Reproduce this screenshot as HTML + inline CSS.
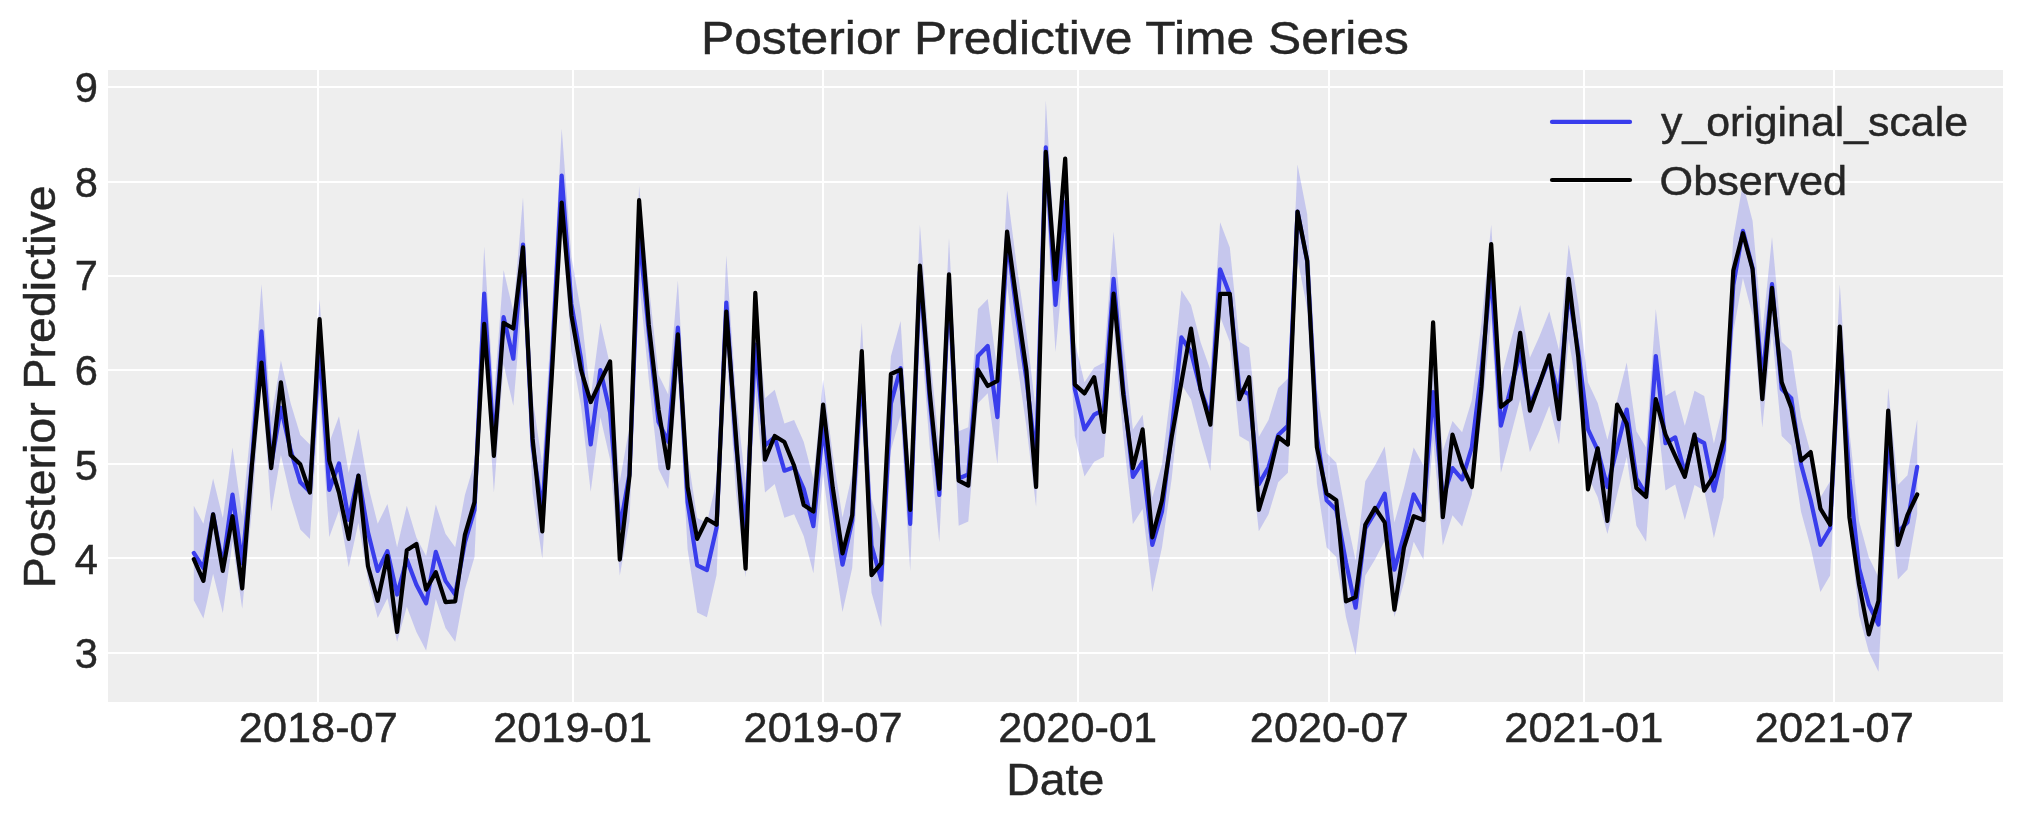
<!DOCTYPE html>
<html><head><meta charset="utf-8"><title>Posterior Predictive Time Series</title>
<style>
html,body{margin:0;padding:0;background:#fff;}
body{width:2023px;height:823px;overflow:hidden;}
svg{display:block;will-change:transform;}
text{font-family:"Liberation Sans",sans-serif;fill:#262626;stroke:#262626;stroke-width:0.45px;}
</style></head><body>
<svg width="2023" height="823" viewBox="0 0 2023 823">
<rect x="0" y="0" width="2023" height="823" fill="#ffffff"/>
<rect x="108" y="70" width="1895" height="632" fill="#eeeeee"/>
<g fill="#ffffff" stroke="none">
<rect x="317" y="70" width="2" height="632"/>
<rect x="572" y="70" width="2" height="632"/>
<rect x="822" y="70" width="2" height="632"/>
<rect x="1077" y="70" width="2" height="632"/>
<rect x="1328" y="70" width="2" height="632"/>
<rect x="1583" y="70" width="2" height="632"/>
<rect x="1833" y="70" width="2" height="632"/>
<rect x="108" y="652" width="1895" height="2"/>
<rect x="108" y="557" width="1895" height="2"/>
<rect x="108" y="463" width="1895" height="2"/>
<rect x="108" y="369" width="1895" height="2"/>
<rect x="108" y="275" width="1895" height="2"/>
<rect x="108" y="181" width="1895" height="2"/>
<rect x="108" y="86" width="1895" height="2"/>
</g>
<polygon points="193.8,505.8 203.4,523.8 213.1,478.5 222.8,518.1 232.5,447.4 242.2,516.2 251.8,417.2 261.5,284.2 271.2,417.2 280.9,360.6 290.6,403.0 300.3,435.1 309.9,444.5 319.6,299.2 329.3,442.6 339.0,416.2 348.7,472.8 358.4,428.5 368.0,485.1 377.7,523.8 387.4,504.0 397.1,547.3 406.8,505.8 416.4,537.5 426.1,556.1 435.8,504.6 445.5,533.8 455.2,547.3 464.9,495.1 474.5,462.7 484.2,246.4 493.9,398.3 503.6,270.0 513.3,311.5 523.0,197.4 532.6,398.3 542.3,464.3 552.0,313.4 561.7,128.5 571.4,256.8 581.0,311.5 590.7,397.4 600.4,322.8 610.1,365.3 619.8,481.3 629.5,426.6 639.1,186.1 648.8,285.1 658.5,374.7 668.2,394.5 677.9,280.4 687.6,454.9 697.2,518.1 706.9,522.8 716.6,480.4 726.3,255.3 736.0,398.3 745.6,483.2 755.3,297.4 765.0,398.3 774.7,389.8 784.4,423.5 794.1,420.0 803.7,441.7 813.4,479.0 823.1,379.4 832.8,454.9 842.5,517.5 852.2,473.8 861.8,322.8 871.5,498.3 881.2,532.5 890.9,356.2 900.6,320.9 910.2,476.6 919.9,224.7 929.6,351.1 939.3,447.8 949.0,237.9 958.7,431.3 968.3,427.2 978.0,308.9 987.7,298.9 997.4,370.0 1007.1,190.8 1016.8,266.2 1026.4,332.3 1036.1,412.5 1045.8,100.2 1055.5,257.7 1065.2,154.9 1074.8,341.7 1084.5,382.3 1094.2,367.5 1103.9,362.5 1113.6,231.7 1123.3,341.7 1132.9,429.6 1142.6,414.7 1152.3,497.6 1162.0,464.3 1171.7,384.2 1181.4,290.2 1191.0,304.9 1200.7,342.6 1210.4,370.0 1220.1,222.2 1229.8,247.4 1239.4,341.7 1249.1,347.4 1258.8,437.0 1268.5,420.0 1278.2,387.9 1287.9,378.5 1297.5,164.4 1307.2,214.3 1316.9,388.9 1326.6,453.0 1336.3,462.7 1346.0,515.3 1355.6,560.6 1365.3,481.3 1375.0,465.3 1384.7,446.4 1394.4,522.5 1404.0,487.9 1413.7,447.4 1423.4,465.3 1433.1,344.9 1442.8,451.1 1452.5,420.9 1462.1,432.3 1471.8,400.2 1481.5,322.8 1491.2,224.7 1500.9,378.5 1510.6,341.7 1520.2,304.9 1529.9,357.7 1539.6,336.0 1549.3,311.5 1559.0,350.2 1568.7,244.5 1578.3,304.0 1588.0,382.3 1597.7,403.0 1607.4,439.8 1617.1,400.2 1626.7,362.5 1636.4,431.3 1646.1,447.4 1655.8,308.9 1665.5,396.0 1675.2,390.3 1684.8,425.7 1694.5,390.8 1704.2,396.0 1713.9,443.6 1723.6,403.0 1733.3,237.9 1742.9,183.6 1752.6,221.0 1762.3,333.2 1772.0,237.0 1781.7,341.7 1791.3,351.1 1801.0,417.2 1810.7,453.0 1820.4,497.6 1830.1,481.3 1839.8,284.2 1849.4,431.3 1859.1,521.2 1868.8,557.3 1878.5,577.3 1888.2,387.9 1897.9,485.1 1907.5,475.2 1917.2,419.7 1917.2,514.0 1907.5,569.5 1897.9,579.4 1888.2,482.3 1878.5,671.7 1868.8,651.7 1859.1,615.5 1849.4,525.7 1839.8,383.2 1830.1,575.6 1820.4,592.0 1810.7,547.3 1801.0,511.5 1791.3,445.5 1781.7,436.0 1772.0,331.3 1762.3,427.5 1752.6,315.3 1742.9,277.9 1733.3,332.3 1723.6,497.3 1713.9,537.9 1704.2,490.4 1694.5,485.1 1684.8,520.0 1675.2,484.6 1665.5,490.4 1655.8,403.2 1646.1,541.7 1636.4,525.7 1626.7,456.8 1617.1,494.5 1607.4,534.1 1597.7,497.3 1588.0,476.6 1578.3,398.3 1568.7,338.9 1559.0,444.5 1549.3,405.8 1539.6,430.4 1529.9,452.1 1520.2,399.2 1510.6,436.0 1500.9,472.8 1491.2,319.1 1481.5,417.2 1471.8,494.5 1462.1,526.6 1452.5,515.3 1442.8,545.5 1433.1,439.2 1423.4,559.6 1413.7,541.7 1404.0,582.2 1394.4,616.9 1384.7,540.7 1375.0,559.6 1365.3,575.6 1355.6,654.9 1346.0,617.2 1336.3,557.1 1326.6,547.3 1316.9,483.2 1307.2,308.7 1297.5,258.7 1287.9,472.8 1278.2,482.3 1268.5,514.3 1258.8,531.3 1249.1,441.7 1239.4,436.0 1229.8,341.7 1220.1,316.5 1210.4,470.9 1200.7,437.0 1191.0,399.2 1181.4,384.5 1171.7,478.5 1162.0,547.3 1152.3,592.0 1142.6,509.0 1132.9,524.0 1123.3,436.0 1113.6,326.0 1103.9,456.8 1094.2,461.8 1084.5,476.6 1074.8,436.0 1065.2,249.3 1055.5,352.1 1045.8,194.5 1036.1,506.8 1026.4,426.6 1016.8,360.6 1007.1,285.1 997.4,464.3 987.7,393.2 978.0,403.2 968.3,521.5 958.7,525.7 949.0,332.3 939.3,542.2 929.6,445.5 919.9,319.1 910.2,570.9 900.6,415.3 890.9,450.6 881.2,626.9 871.5,592.6 861.8,417.2 852.2,568.1 842.5,611.9 832.8,549.2 823.1,473.8 813.4,573.3 803.7,536.0 794.1,514.3 784.4,517.8 774.7,484.1 765.0,492.6 755.3,391.7 745.6,577.5 736.0,492.6 726.3,349.6 716.6,574.7 706.9,617.2 697.2,612.4 687.6,549.2 677.9,374.7 668.2,488.9 658.5,469.0 648.8,379.4 639.1,280.4 629.5,520.9 619.8,575.6 610.1,459.6 600.4,417.2 590.7,491.7 581.0,405.8 571.4,351.1 561.7,222.8 552.0,407.7 542.3,558.7 532.6,492.6 523.0,291.7 513.3,405.8 503.6,364.3 493.9,492.6 484.2,340.8 474.5,557.1 464.9,589.4 455.2,641.7 445.5,628.1 435.8,598.9 426.1,650.5 416.4,631.9 406.8,606.8 397.1,641.7 387.4,598.3 377.7,618.1 368.0,579.4 358.4,522.8 348.7,567.2 339.0,510.6 329.3,537.0 319.6,393.6 309.9,538.9 300.3,529.4 290.6,497.3 280.9,454.9 271.2,511.5 261.5,378.5 251.8,511.5 242.2,608.7 232.5,541.7 222.8,612.9 213.1,573.8 203.4,618.4 193.8,600.2" fill="#2a2eec" fill-opacity="0.2" stroke="none"/>
<polyline points="193.8,553.0 203.4,568.1 213.1,514.3 222.8,565.3 232.5,494.5 242.2,563.4 251.8,464.3 261.5,331.3 271.2,464.3 280.9,407.7 290.6,450.2 300.3,482.3 309.9,491.7 319.6,346.4 329.3,489.8 339.0,463.4 348.7,520.0 358.4,475.7 368.0,532.3 377.7,570.9 387.4,551.1 397.1,594.5 406.8,559.6 416.4,584.7 426.1,603.3 435.8,551.8 445.5,580.9 455.2,594.5 464.9,542.3 474.5,509.9 484.2,293.6 493.9,445.5 503.6,317.2 513.3,358.7 523.0,244.5 532.6,445.5 542.3,511.5 552.0,360.6 561.7,175.7 571.4,304.0 581.0,358.7 590.7,444.5 600.4,370.0 610.1,412.5 619.8,528.5 629.5,473.8 639.1,233.2 648.8,332.3 658.5,421.9 668.2,441.7 677.9,327.6 687.6,502.1 697.2,565.3 706.9,570.0 716.6,527.5 726.3,302.5 736.0,445.5 745.6,530.4 755.3,344.5 765.0,445.5 774.7,437.0 784.4,470.7 794.1,467.2 803.7,488.9 813.4,526.1 823.1,426.6 832.8,502.1 842.5,564.7 852.2,520.9 861.8,370.0 871.5,545.5 881.2,579.7 890.9,403.4 900.6,368.1 910.2,523.8 919.9,271.9 929.6,398.3 939.3,495.0 949.0,285.1 958.7,478.5 968.3,474.3 978.0,356.0 987.7,346.0 997.4,417.2 1007.1,237.9 1016.8,313.4 1026.4,379.4 1036.1,459.6 1045.8,147.4 1055.5,304.9 1065.2,202.1 1074.8,388.9 1084.5,429.4 1094.2,414.6 1103.9,409.6 1113.6,278.9 1123.3,388.9 1132.9,476.8 1142.6,461.9 1152.3,544.8 1162.0,511.5 1171.7,431.3 1181.4,337.4 1191.0,352.1 1200.7,389.8 1210.4,417.2 1220.1,269.3 1229.8,294.5 1239.4,388.9 1249.1,394.5 1258.8,484.1 1268.5,467.2 1278.2,435.1 1287.9,425.7 1297.5,211.5 1307.2,261.5 1316.9,436.0 1326.6,500.2 1336.3,509.9 1346.0,562.4 1355.6,607.7 1365.3,528.5 1375.0,512.4 1384.7,493.6 1394.4,569.7 1404.0,535.1 1413.7,494.5 1423.4,512.4 1433.1,392.1 1442.8,498.3 1452.5,468.1 1462.1,479.4 1471.8,447.4 1481.5,370.0 1491.2,271.9 1500.9,425.7 1510.6,388.9 1520.2,352.1 1529.9,404.9 1539.6,383.2 1549.3,358.7 1559.0,397.4 1568.7,291.7 1578.3,351.1 1588.0,429.4 1597.7,450.2 1607.4,487.0 1617.1,447.4 1626.7,409.6 1636.4,478.5 1646.1,494.5 1655.8,356.0 1665.5,443.2 1675.2,437.4 1684.8,472.8 1694.5,437.9 1704.2,443.2 1713.9,490.7 1723.6,450.2 1733.3,285.1 1742.9,230.8 1752.6,268.1 1762.3,380.4 1772.0,284.2 1781.7,388.9 1791.3,398.3 1801.0,464.3 1810.7,500.2 1820.4,544.8 1830.1,528.5 1839.8,336.0 1849.4,478.5 1859.1,568.4 1868.8,604.5 1878.5,624.5 1888.2,435.1 1897.9,532.3 1907.5,522.3 1917.2,466.9" fill="none" stroke="#393dec" stroke-width="4.2" stroke-linejoin="round" stroke-linecap="round"/>
<polyline points="193.8,559.2 203.4,580.9 213.1,514.4 222.8,570.9 232.5,516.2 242.2,588.4 251.8,466.2 261.5,362.5 271.2,468.1 280.9,382.3 290.6,454.9 300.3,464.3 309.9,492.6 319.6,319.1 329.3,460.6 339.0,492.6 348.7,538.9 358.4,475.7 368.0,566.2 377.7,600.8 387.4,556.0 397.1,632.0 406.8,550.2 416.4,544.0 426.1,589.6 435.8,572.2 445.5,602.1 455.2,601.3 464.9,534.8 474.5,502.1 484.2,323.8 493.9,455.8 503.6,322.8 513.3,328.5 523.0,247.4 532.6,438.9 542.3,531.3 552.0,371.9 561.7,202.6 571.4,315.3 581.0,370.0 590.7,402.1 600.4,381.3 610.1,361.5 619.8,559.6 629.5,475.7 639.1,200.2 648.8,324.7 658.5,409.6 668.2,468.1 677.9,334.3 687.6,487.0 697.2,538.9 706.9,519.0 716.6,524.7 726.3,311.5 736.0,437.0 745.6,568.6 755.3,292.9 765.0,459.6 774.7,436.0 784.4,442.0 794.1,465.7 803.7,504.9 813.4,511.5 823.1,404.6 832.8,487.9 842.5,553.5 852.2,515.3 861.8,351.1 871.5,575.2 881.2,563.4 890.9,374.0 900.6,369.7 910.2,509.9 919.9,265.7 929.6,390.8 939.3,488.9 949.0,274.3 958.7,480.6 968.3,485.6 978.0,369.7 987.7,386.0 997.4,380.8 1007.1,231.5 1016.8,302.6 1026.4,370.0 1036.1,487.0 1045.8,151.8 1055.5,279.4 1065.2,158.5 1074.8,384.6 1084.5,393.4 1094.2,377.2 1103.9,432.0 1113.6,293.6 1123.3,394.5 1132.9,468.1 1142.6,429.4 1152.3,537.3 1162.0,500.2 1171.7,437.0 1181.4,382.3 1191.0,328.5 1200.7,389.8 1210.4,424.7 1220.1,293.8 1229.8,293.8 1239.4,399.2 1249.1,377.2 1258.8,509.9 1268.5,478.0 1278.2,437.0 1287.9,444.5 1297.5,211.5 1307.2,260.6 1316.9,447.4 1326.6,493.6 1336.3,500.2 1346.0,601.3 1355.6,597.1 1365.3,524.7 1375.0,507.9 1384.7,522.3 1394.4,609.6 1404.0,547.3 1413.7,516.2 1423.4,520.0 1433.1,322.4 1442.8,517.2 1452.5,434.5 1462.1,465.7 1471.8,487.0 1481.5,387.0 1491.2,244.0 1500.9,406.8 1510.6,399.2 1520.2,332.9 1529.9,410.6 1539.6,383.2 1549.3,355.3 1559.0,419.1 1568.7,278.9 1578.3,357.3 1588.0,489.3 1597.7,448.3 1607.4,520.9 1617.1,404.6 1626.7,423.8 1636.4,487.9 1646.1,496.9 1655.8,399.2 1665.5,434.5 1675.2,455.8 1684.8,476.8 1694.5,434.5 1704.2,490.7 1713.9,475.7 1723.6,439.5 1733.3,270.6 1742.9,233.2 1752.6,269.3 1762.3,399.2 1772.0,287.9 1781.7,382.3 1791.3,407.7 1801.0,460.6 1810.7,452.1 1820.4,508.7 1830.1,524.7 1839.8,326.6 1849.4,517.2 1859.1,584.6 1868.8,634.4 1878.5,600.8 1888.2,410.6 1897.9,544.8 1907.5,514.9 1917.2,494.5" fill="none" stroke="#000000" stroke-width="4.2" stroke-linejoin="round" stroke-linecap="round"/>
<line x1="1552" y1="121.9" x2="1630" y2="121.9" stroke="#393dec" stroke-width="4.2" stroke-linecap="round"/>
<line x1="1552" y1="180" x2="1630" y2="180" stroke="#000000" stroke-width="4.2" stroke-linecap="round"/>
<text id="leg1" x="1661" y="136.4" font-size="40.9" textLength="307" lengthAdjust="spacingAndGlyphs">y_original_scale</text>
<text id="leg2" x="1659.5" y="195" font-size="40.9" textLength="187.5" lengthAdjust="spacingAndGlyphs">Observed</text>
<text id="title" x="701" y="54.4" font-size="47.1" textLength="708" lengthAdjust="spacingAndGlyphs">Posterior Predictive Time Series</text>
<text class="xt" x="238.8" y="741.9" font-size="41.65" textLength="159" lengthAdjust="spacingAndGlyphs">2018-07</text>
<text class="xt" x="493.2" y="741.9" font-size="41.65" textLength="159" lengthAdjust="spacingAndGlyphs">2019-01</text>
<text class="xt" x="743.6" y="741.9" font-size="41.65" textLength="159" lengthAdjust="spacingAndGlyphs">2019-07</text>
<text class="xt" x="998.2" y="741.9" font-size="41.65" textLength="159" lengthAdjust="spacingAndGlyphs">2020-01</text>
<text class="xt" x="1249.8" y="741.9" font-size="41.65" textLength="159" lengthAdjust="spacingAndGlyphs">2020-07</text>
<text class="xt" x="1504.3" y="741.9" font-size="41.65" textLength="159" lengthAdjust="spacingAndGlyphs">2021-01</text>
<text class="xt" x="1754.8" y="741.9" font-size="41.65" textLength="159" lengthAdjust="spacingAndGlyphs">2021-07</text>
<text class="yt" x="86.3" y="667.8" font-size="41.65" text-anchor="middle">3</text>
<text class="yt" x="86.3" y="573.6" font-size="41.65" text-anchor="middle">4</text>
<text class="yt" x="86.3" y="480" font-size="41.65" text-anchor="middle">5</text>
<text class="yt" x="86.3" y="385" font-size="41.65" text-anchor="middle">6</text>
<text class="yt" x="86.3" y="290.2" font-size="41.65" text-anchor="middle">7</text>
<text class="yt" x="86.3" y="196.8" font-size="41.65" text-anchor="middle">8</text>
<text class="yt" x="86.3" y="102" font-size="41.65" text-anchor="middle">9</text>
<text id="xl" x="1006.3" y="794.7" font-size="44.2" textLength="98" lengthAdjust="spacingAndGlyphs">Date</text>
<text id="yl" transform="translate(54.6,588.3) rotate(-90)" font-size="44.2" textLength="403" lengthAdjust="spacingAndGlyphs">Posterior Predictive</text>
</svg></body></html>
